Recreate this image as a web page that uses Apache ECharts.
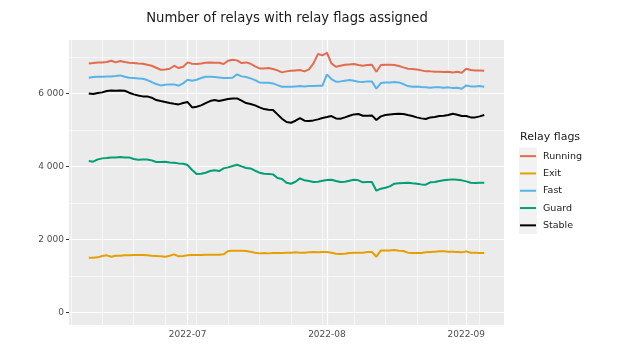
<!DOCTYPE html>
<html>
<head>
<meta charset="utf-8">
<script src="https://cdn.jsdelivr.net/npm/echarts@6/dist/echarts.min.js"></script>
<style>html,body{margin:0;padding:0;background:#fff}#c{width:628px;height:353px}</style>
</head>
<body>
<div id="c"></div>
<script>
const titleText = 'Number of relays with relay flags assigned';
const legendTitle = 'Relay flags';
const seriesNames = ['Running', 'Exit', 'Fast', 'Guard', 'Stable'];
const seriesColors = ['#e36b50', '#e69f00', '#56b4e9', '#009e73', '#000000'];

const dates = [
 '2022-06-09','2022-06-10','2022-06-11','2022-06-12','2022-06-13','2022-06-14','2022-06-15','2022-06-16','2022-06-17','2022-06-18',
 '2022-06-19','2022-06-20','2022-06-21','2022-06-22','2022-06-23','2022-06-24','2022-06-25','2022-06-26','2022-06-27','2022-06-28',
 '2022-06-29','2022-06-30','2022-07-01','2022-07-02','2022-07-03','2022-07-04','2022-07-05','2022-07-06','2022-07-07','2022-07-08',
 '2022-07-09','2022-07-10','2022-07-11','2022-07-12','2022-07-13','2022-07-14','2022-07-15','2022-07-16','2022-07-17','2022-07-18',
 '2022-07-19','2022-07-20','2022-07-21','2022-07-22','2022-07-23','2022-07-24','2022-07-25','2022-07-26','2022-07-27','2022-07-28',
 '2022-07-29','2022-07-30','2022-07-31','2022-08-01','2022-08-02','2022-08-03','2022-08-04','2022-08-05','2022-08-06','2022-08-07',
 '2022-08-08','2022-08-09','2022-08-10','2022-08-11','2022-08-12','2022-08-13','2022-08-14','2022-08-15','2022-08-16','2022-08-17',
 '2022-08-18','2022-08-19','2022-08-20','2022-08-21','2022-08-22','2022-08-23','2022-08-24','2022-08-25','2022-08-26','2022-08-27',
 '2022-08-28','2022-08-29','2022-08-30','2022-08-31','2022-09-01','2022-09-02','2022-09-03','2022-09-04','2022-09-05'
];

const running = [
 6820,6830,6848,6848,6857,6893,6848,6884,6857,6839,
 6830,6820,6811,6784,6757,6702,6647,6656,6675,6757,
 6693,6729,6848,6811,6802,6820,6839,6848,6839,6839,
 6802,6893,6921,6903,6830,6848,6811,6738,6684,6684,
 6693,6666,6629,6574,6602,6620,6629,6638,6602,6656,
 6820,7076,7040,7112,6820,6729,6757,6784,6793,6802,
 6775,6757,6775,6784,6592,6775,6784,6784,6775,6748,
 6711,6675,6666,6656,6629,6602,6602,6592,6592,6583,
 6592,6574,6592,6565,6675,6638,6629,6629,6620
];
const exitF = [
 1501,1501,1510,1546,1565,1528,1555,1555,1565,1565,
 1574,1574,1574,1565,1555,1546,1537,1528,1555,1592,
 1537,1546,1565,1574,1574,1574,1583,1583,1583,1583,
 1592,1683,1692,1692,1692,1683,1665,1638,1619,1628,
 1619,1628,1628,1628,1638,1638,1647,1638,1638,1647,
 1656,1647,1656,1656,1638,1610,1601,1610,1628,1638,
 1638,1638,1656,1656,1528,1701,1701,1701,1711,1692,
 1683,1638,1628,1628,1628,1647,1656,1665,1674,1674,
 1665,1665,1656,1647,1674,1638,1638,1628,1628
];
const fast = [
 6428,6446,6455,6455,6465,6465,6474,6492,6455,6428,
 6419,6410,6401,6364,6310,6255,6218,6236,6246,6246,
 6209,6273,6374,6346,6374,6419,6455,6455,6446,6437,
 6419,6419,6428,6519,6465,6446,6410,6364,6300,6291,
 6291,6273,6227,6182,6182,6182,6191,6200,6191,6200,
 6200,6209,6209,6519,6392,6319,6328,6346,6364,6346,
 6319,6310,6328,6328,6127,6282,6300,6300,6310,6300,
 6255,6200,6182,6191,6173,6164,6155,6164,6164,6155,
 6164,6145,6155,6127,6218,6191,6191,6200,6182
];
const guard = [
 4147,4129,4192,4220,4229,4247,4247,4256,4247,4247,
 4202,4183,4192,4192,4165,4120,4120,4129,4110,4101,
 4083,4074,4037,3901,3791,3800,3828,3873,3892,3873,
 3946,3974,4010,4047,4001,3955,3946,3882,3828,3800,
 3791,3782,3682,3654,3554,3526,3581,3672,3618,3600,
 3572,3581,3609,3627,3636,3600,3572,3581,3609,3636,
 3618,3563,3572,3572,3335,3390,3417,3453,3526,3536,
 3545,3554,3536,3526,3508,3499,3563,3572,3600,3618,
 3636,3645,3636,3618,3590,3554,3545,3554,3554
];
const stable = [
 5999,5981,6008,6027,6063,6081,6072,6081,6072,6018,
 5972,5944,5917,5917,5881,5817,5789,5762,5735,5716,
 5698,5735,5762,5616,5634,5671,5735,5789,5817,5789,
 5817,5844,5862,5862,5799,5735,5707,5671,5616,5570,
 5552,5543,5424,5306,5215,5196,5251,5324,5251,5242,
 5260,5288,5324,5351,5379,5315,5306,5342,5388,5424,
 5434,5388,5388,5397,5269,5370,5406,5424,5434,5443,
 5434,5406,5379,5342,5315,5297,5342,5351,5379,5388,
 5406,5443,5415,5379,5379,5342,5342,5370,5406
];

const yTicks = [0, 2000, 4000, 6000];
const yMinor = [1000, 3000, 5000, 7000];
const xTicks = ['2022-07-01', '2022-08-01', '2022-09-01'];
const xMinor = ['2022-06-05','2022-06-12','2022-06-19','2022-06-26','2022-07-03','2022-07-10','2022-07-17','2022-07-24','2022-07-31','2022-08-07','2022-08-14','2022-08-21','2022-08-28','2022-09-04'];

const DAY = 86400000;
const ts = s => Date.parse(s + 'T00:00:00Z');
const xMin = ts(dates[0]) - 4.4 * DAY;
const xMax = ts(dates[dates.length - 1]) + 4.4 * DAY;
const yMin = -342, yMax = 7461;

const values = [running, exitF, fast, guard, stable];
const font = 'DejaVu Sans';

const gridLines = [];
yMinor.forEach(v => gridLines.push({yAxis: v, lineStyle: {width: 0.6}}));
xMinor.forEach(d => gridLines.push({xAxis: ts(d), lineStyle: {width: 0.6}}));
yTicks.forEach(v => gridLines.push({yAxis: v, lineStyle: {width: 1.2}}));
xTicks.forEach(d => gridLines.push({xAxis: ts(d), lineStyle: {width: 1.2}}));

const series = [{
  name: '_grid', type: 'line', data: [], z: 1, silent: true,
  markLine: {silent: true, z: 1, zlevel: 0, symbol: ['none', 'none'], label: {show: false},
    lineStyle: {color: '#ffffff', type: 'solid'}, animation: false, data: gridLines}
}];
seriesNames.forEach((n, k) => {
  series.push({
    name: n, type: 'line', z: 3, showSymbol: false, symbol: 'none',
    lineStyle: {color: seriesColors[k], width: 2},
    itemStyle: {color: seriesColors[k]},
    data: dates.map((d, i) => [ts(d), values[k][i]])
  });
});

const chart = echarts.init(document.getElementById('c'));
chart.setOption({
  animation: false,
  backgroundColor: '#ffffff',
  textStyle: {fontFamily: font},
  title: [
    {text: titleText, left: 287, top: 12, textAlign: 'center', padding: 0,
     textStyle: {fontFamily: font, fontSize: 13.2, fontWeight: 'normal', color: '#1a1a1a'}},
    {text: legendTitle, left: 520, top: 132, padding: 0,
     textStyle: {fontFamily: font, fontSize: 11, fontWeight: 'normal', color: '#1a1a1a'}}
  ],
  graphic: [{type: 'rect', left: 519, top: 147.5, shape: {width: 18, height: 86.5}, style: {fill: '#f2f2f2'}, z: -1, silent: true}],
  legend: {
    data: seriesNames, orient: 'vertical', left: 520, top: 147.5, padding: 0,
    itemWidth: 16, itemHeight: 2, itemGap: 0, icon: 'rect',
    textStyle: {fontFamily: font, fontSize: 9.5, color: '#1a1a1a', lineHeight: 17.3, padding: [0, 0, 0, 2]},
    selectedMode: false
  },
  grid: {left: 69, right: 124, top: 40, bottom: 28, show: true, backgroundColor: '#ebebeb', borderWidth: 0, containLabel: false},
  xAxis: {
    type: 'value', min: xMin, max: xMax,
    axisLine: {show: false},
    splitLine: {show: false},
    axisTick: {show: true, length: 3, lineStyle: {color: '#333333', width: 1}, customValues: xTicks.map(ts)},
    axisLabel: {
      customValues: xTicks.map(ts), margin: 5, color: '#4d4d4d', fontSize: 9, fontFamily: font,
      formatter: v => { const d = new Date(v); return d.getUTCFullYear() + '-' + String(d.getUTCMonth() + 1).padStart(2, '0'); }
    }
  },
  yAxis: {
    type: 'value', min: yMin, max: yMax,
    axisLine: {show: false},
    splitLine: {show: false},
    axisTick: {show: true, length: 3, lineStyle: {color: '#333333', width: 1}, customValues: yTicks},
    axisLabel: {
      customValues: yTicks, margin: 5, color: '#4d4d4d', fontSize: 9, fontFamily: font,
      formatter: v => String(v).replace(/\B(?=(\d{3})+(?!\d))/g, ' ')
    }
  },
  series: series
});
</script>
</body>
</html>
